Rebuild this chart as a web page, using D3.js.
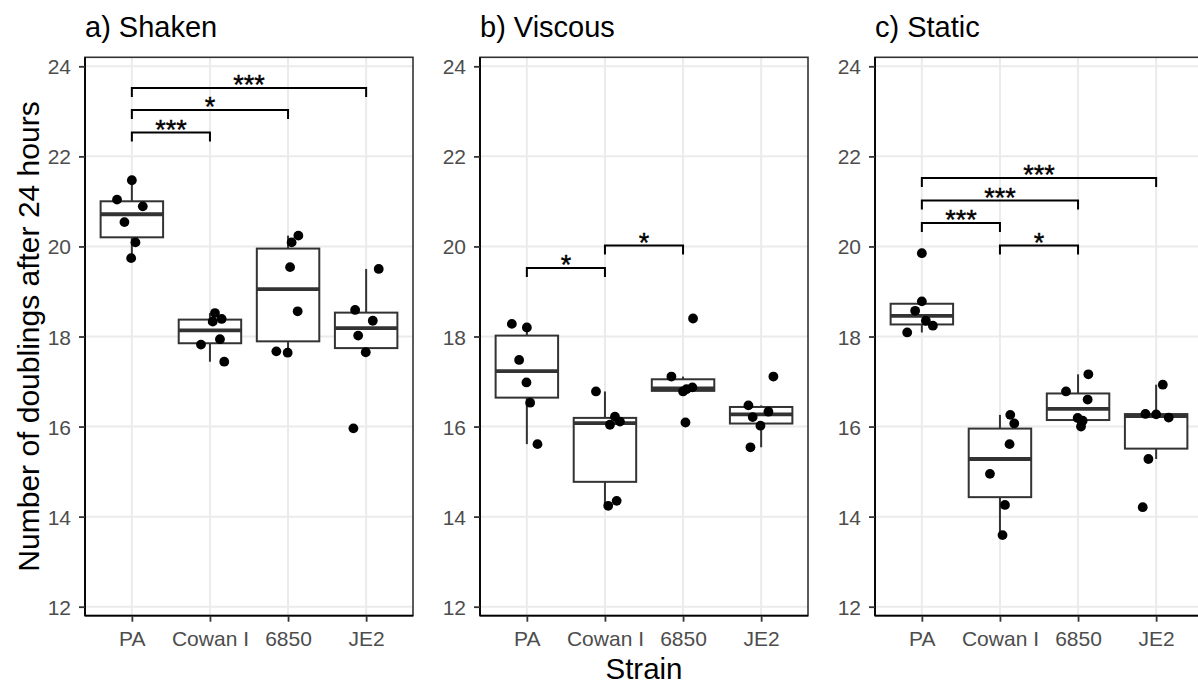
<!DOCTYPE html>
<html>
<head>
<meta charset="utf-8">
<script src="https://cdn.jsdelivr.net/npm/d3@7"></script>
<style>
  html, body { margin: 0; padding: 0; background: #ffffff; }
  svg { display: block; }
</style>
</head>
<body>
<svg id="chart" width="1198" height="685"></svg>
<script>
// ---------------- DATA ----------------
const strains = ["PA", "Cowan I", "6850", "JE2"];
const panelTitles = ["a) Shaken", "b) Viscous", "c) Static"];
const yTicks = [12, 14, 16, 18, 20, 22, 24];

// doublings per strain, per condition
const shakenValues = [
  [21.47, 21.04, 20.89, 20.54, 20.09, 19.74],
  [18.52, 18.39, 18.33, 17.94, 17.82, 17.44],
  [20.24, 20.09, 19.54, 18.56, 17.67, 17.64],
  [19.50, 18.59, 18.35, 18.02, 17.65, 15.96]
];
const viscousValues = [
  [18.28, 18.20, 17.48, 16.98, 16.53, 15.61],
  [16.78, 16.22, 16.11, 16.04, 14.35, 14.24],
  [18.40, 17.11, 16.87, 16.83, 16.78, 16.09],
  [17.11, 16.47, 16.33, 16.21, 16.02, 15.54]
];
const staticValues = [
  [19.85, 18.78, 18.57, 18.35, 18.24, 18.09],
  [16.26, 16.07, 15.61, 14.95, 14.26, 13.59],
  [17.16, 16.78, 16.60, 16.19, 16.13, 16.00],
  [16.93, 16.28, 16.27, 16.20, 15.28, 14.21]
];

// horizontal jitter of each point, in category units
const shakenJitter = [
  [0, -0.19, 0.14, -0.095, 0.046, -0.009],
  [0.064, 0.15, 0.035, 0.128, -0.115, 0.183],
  [0.132, 0.046, 0.026, 0.123, -0.15, -0.005],
  [0.161, -0.141, 0.085, -0.102, -0.005, -0.163]
];
const viscousJitter = [
  [-0.192, 0, -0.099, -0.005, 0.042, 0.136],
  [-0.115, 0.128, 0.192, 0.064, 0.15, 0.042],
  [0.128, -0.149, 0.12, 0.044, 0, 0.031],
  [0.157, -0.163, 0.093, -0.108, -0.009, -0.137]
];
const staticJitter = [
  [0, 0, -0.086, 0.051, 0.141, -0.188],
  [0.132, 0.183, 0.123, -0.128, 0.064, 0.033],
  [0.132, -0.154, 0.123, -0.005, 0.059, 0.038],
  [0.085, -0.137, 0, 0.161, -0.099, -0.172]
];

// significance brackets: [from, to, y, label]
const shakenSig = [["PA", "Cowan I", 22.53, "***"], ["PA", "6850", 23.03, "*"], ["PA", "JE2", 23.52, "***"]];
const viscousSig = [["PA", "Cowan I", 19.52, "*"], ["Cowan I", "6850", 20.02, "*"]];
const staticSig = [["PA", "JE2", 21.52, "***"], ["PA", "6850", 21.02, "***"], ["PA", "Cowan I", 20.52, "***"], ["Cowan I", "6850", 20.02, "*"]];
const tipLength = 0.2;

const yTitle = "Number of doublings after 24 hours";
const xTitle = "Strain";

// ---------------- LAYOUT ----------------
const FONT = "'Liberation Sans', Arial, Helvetica, sans-serif";
const panelLefts = [85, 480, 875];
const panelW = 328;
const plotTop = 57.3, plotBottom = 615.7;
const svg = d3.select("#chart");

const y = d3.scaleLinear().domain([11.8, 24.2]).range([plotBottom, plotTop]);

const panels = [
  { values: shakenValues, jitter: shakenJitter, sig: shakenSig },
  { values: viscousValues, jitter: viscousJitter, sig: viscousSig },
  { values: staticValues, jitter: staticJitter, sig: staticSig }
];

function boxStats(arr) {
  const s = arr.slice().sort(d3.ascending);
  const q1 = d3.quantile(s, 0.25), med = d3.quantile(s, 0.5), q3 = d3.quantile(s, 0.75);
  const iqr = q3 - q1;
  const lo = d3.min(s.filter(v => v >= q1 - 1.5 * iqr));
  const hi = d3.max(s.filter(v => v <= q3 + 1.5 * iqr));
  return { q1, med, q3, lo, hi };
}

const BOXC = "#333333";

panels.forEach((p, pi) => {
  const left = panelLefts[pi], right = left + panelW;
  const x = d3.scalePoint().domain(strains).range([left, right]).padding(0.6);
  const step = x.step();
  const g = svg.append("g");

  g.append("rect").attr("x", left).attr("y", plotTop).attr("width", panelW).attr("height", plotBottom - plotTop)
    .attr("fill", "#ffffff");

  // grid
  g.selectAll(null).data(yTicks).enter().append("line")
    .attr("x1", left).attr("x2", right).attr("y1", d => y(d)).attr("y2", d => y(d))
    .attr("stroke", "#EBEBEB").attr("stroke-width", 2);
  g.selectAll(null).data(strains).enter().append("line")
    .attr("x1", d => x(d)).attr("x2", d => x(d)).attr("y1", plotTop).attr("y2", plotBottom)
    .attr("stroke", "#EBEBEB").attr("stroke-width", 2);

  // boxes
  strains.forEach((s, si) => {
    const st = boxStats(p.values[si]);
    const cx = x(s), hw = step * 0.4;
    g.append("line").attr("x1", cx).attr("x2", cx).attr("y1", y(st.hi)).attr("y2", y(st.q3))
      .attr("stroke", BOXC).attr("stroke-width", 2);
    g.append("line").attr("x1", cx).attr("x2", cx).attr("y1", y(st.q1)).attr("y2", y(st.lo))
      .attr("stroke", BOXC).attr("stroke-width", 2);
    g.append("rect").attr("x", cx - hw).attr("width", 2 * hw)
      .attr("y", y(st.q3)).attr("height", y(st.q1) - y(st.q3))
      .attr("fill", "#ffffff").attr("stroke", BOXC).attr("stroke-width", 2);
    g.append("line").attr("x1", cx - hw).attr("x2", cx + hw).attr("y1", y(st.med)).attr("y2", y(st.med))
      .attr("stroke", BOXC).attr("stroke-width", 3.8);
  });

  // points
  strains.forEach((s, si) => {
    const pts = p.values[si].map((v, k) => ({ v, j: p.jitter[si][k] }));
    g.selectAll(null).data(pts).enter().append("circle")
      .attr("cx", d => x(s) + d.j * step).attr("cy", d => y(d.v)).attr("r", 4.9)
      .attr("fill", "#000000");
  });

  // significance brackets
  p.sig.forEach(b => {
    const x1 = x(b[0]), x2 = x(b[1]), yy = y(b[2]), yl = y(b[2] - tipLength);
    g.append("path").attr("d", `M${x1},${yl}V${yy}H${x2}V${yl}`)
      .attr("fill", "none").attr("stroke", "#000000").attr("stroke-width", 2);
    g.append("text").attr("x", (x1 + x2) / 2).attr("y", yy + 6)
      .attr("text-anchor", "middle").attr("font-family", FONT).attr("font-size", 27)
      .attr("fill", "#000000").attr("stroke", "#000000").attr("stroke-width", 0.4)
      .text(b[3]);
  });

  // panel border
  g.append("rect").attr("x", left).attr("y", plotTop).attr("width", panelW).attr("height", plotBottom - plotTop)
    .attr("fill", "none").attr("stroke", "#333333").attr("stroke-width", 1.6);
  // axis lines
  g.append("line").attr("x1", left).attr("x2", left).attr("y1", plotTop).attr("y2", plotBottom)
    .attr("stroke", "#000000").attr("stroke-width", 1.8);
  g.append("line").attr("x1", left).attr("x2", right).attr("y1", plotBottom).attr("y2", plotBottom)
    .attr("stroke", "#000000").attr("stroke-width", 1.8);

  // y axis
  const ya = g.append("g").attr("transform", `translate(${left},0)`)
    .call(d3.axisLeft(y).tickValues(yTicks).tickSize(6).tickPadding(8).tickFormat(d3.format("d")));
  ya.select(".domain").remove();
  ya.selectAll(".tick line").attr("stroke", "#333333").attr("stroke-width", 1.8);
  ya.selectAll(".tick text").attr("font-family", FONT).attr("font-size", 21).attr("fill", "#4D4D4D")
    .attr("dy", "0.36em");

  // x axis
  const xa = g.append("g").attr("transform", `translate(0,${plotBottom})`)
    .call(d3.axisBottom(x).tickSize(6).tickPadding(9));
  xa.select(".domain").remove();
  xa.selectAll(".tick line").attr("stroke", "#333333").attr("stroke-width", 1.8);
  xa.selectAll(".tick text").attr("font-family", FONT).attr("font-size", 21).attr("fill", "#4D4D4D");

  // panel title
  svg.append("text").attr("x", left).attr("y", 37).attr("font-family", FONT).attr("font-size", 29)
    .attr("fill", "#000000").text(panelTitles[pi]);
});

// axis titles
svg.append("text").attr("x", 644).attr("y", 679).attr("text-anchor", "middle")
  .attr("font-family", FONT).attr("font-size", 29.5).attr("fill", "#000000").text(xTitle);
svg.append("text").attr("transform", `translate(39,${(plotTop + plotBottom) / 2}) rotate(-90)`)
  .attr("text-anchor", "middle").attr("font-family", FONT).attr("font-size", 30)
  .attr("fill", "#000000").text(yTitle);
</script>
</body>
</html>
